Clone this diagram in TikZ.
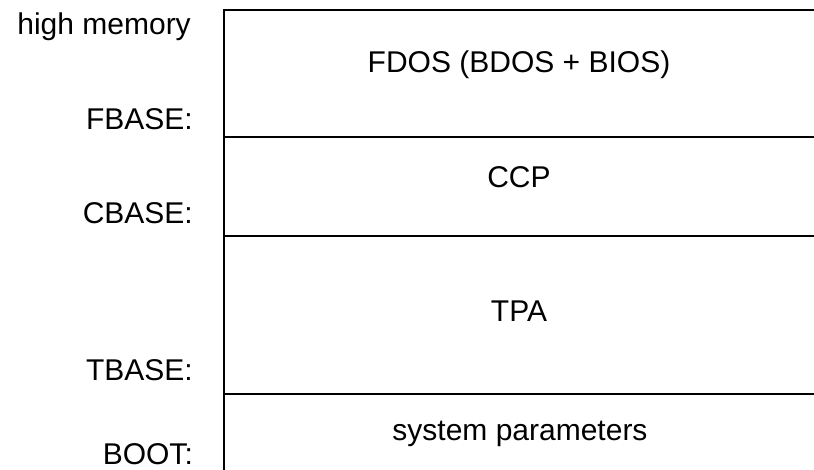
\documentclass[tikz,border=0pt]{standalone}
\usepackage{fontspec}
\setmainfont{Liberation Sans}
\begin{document}
\begin{tikzpicture}[x=1pt,y=-1pt,
  lbl/.style={font=\fontsize{30}{33}\selectfont, inner sep=0pt},
  mem/.style={line width=2.4pt}]
\useasboundingbox (0,0) rectangle (814,470);
% memory map frame
\coordinate (t0) at (224,10);   \coordinate (t1) at (814,10);
\coordinate (f0) at (224,137);  \coordinate (f1) at (814,137);
\coordinate (c0) at (224,236);  \coordinate (c1) at (814,236);
\coordinate (b0) at (224,394);  \coordinate (b1) at (814,394);
\coordinate (bot) at (224,470);
\draw[mem] (t1) -- (t0) -- (bot);
\draw[mem] (f0) -- (f1);
\draw[mem] (c0) -- (c1);
\draw[mem] (b0) -- (b1);
% left labels
\node[lbl, anchor=base east] (hm) at (191,35) {high memory};
\node[lbl, anchor=base east] (fb) at (193,130) {FBASE:};
\node[lbl, anchor=base east] (cb) at (193,224) {CBASE:};
\node[lbl, anchor=base east] (tb) at (193,380) {TBASE:};
\node[lbl, anchor=base east] (bt) at (193,464) {BOOT:};
% region labels
\node[lbl, anchor=base] (fdos) at (519,73) {FDOS (BDOS + BIOS)};
\node[lbl, anchor=base] (ccp) at (519,188) {CCP};
\node[lbl, anchor=base] (tpa) at (519,322) {TPA};
\node[lbl, anchor=base] (sys) at (520,440) {system parameters};
\end{tikzpicture}
\end{document}
